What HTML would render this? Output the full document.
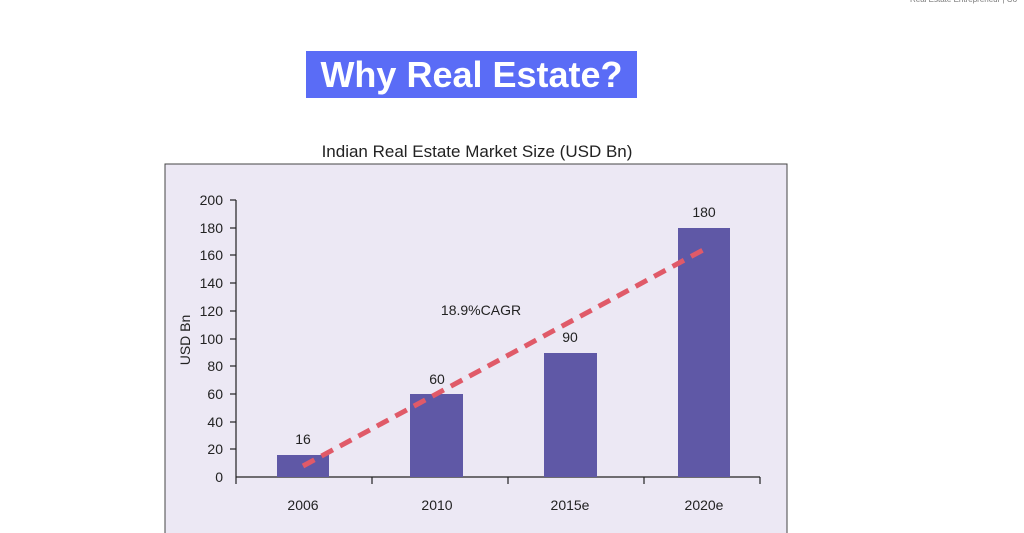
<!DOCTYPE html>
<html><head><style>
body{margin:0;width:1024px;height:533px;background:#fff;overflow:hidden;position:relative;font-family:"Liberation Sans",sans-serif}
</style></head><body>
<div style="position:absolute;left:306px;top:51px;width:331px;height:47px;background:#5a6cf6;color:#fff;font-weight:bold;font-size:36px;line-height:47px;text-align:center">Why Real Estate?</div>
<div style="position:absolute;left:910px;top:-5px;font-size:8px;color:#777">Real Estate Entrepreneur | Co</div>
<svg width="1024" height="533" style="position:absolute;left:0;top:0">
<text x="477" y="157" font-size="17" text-anchor="middle" fill="#222" font-family="Liberation Sans">Indian Real Estate Market Size (USD Bn)</text>
<rect x="165" y="164" width="622" height="380" fill="#ece8f4" stroke="#444" stroke-width="1"/>
<g stroke="#222" stroke-width="1.2">
<line x1="236" y1="200" x2="236" y2="477"/><line x1="236" y1="477" x2="760" y2="477"/>
<line x1="236" y1="477" x2="236" y2="484"/><line x1="372" y1="477" x2="372" y2="484"/><line x1="508" y1="477" x2="508" y2="484"/><line x1="644" y1="477" x2="644" y2="484"/><line x1="760" y1="477" x2="760" y2="484"/>
<line x1="230" y1="200" x2="236" y2="200"/><line x1="230" y1="228" x2="236" y2="228"/><line x1="230" y1="255" x2="236" y2="255"/><line x1="230" y1="283" x2="236" y2="283"/><line x1="230" y1="311" x2="236" y2="311"/><line x1="230" y1="339" x2="236" y2="339"/><line x1="230" y1="366" x2="236" y2="366"/><line x1="230" y1="394" x2="236" y2="394"/><line x1="230" y1="422" x2="236" y2="422"/><line x1="230" y1="449" x2="236" y2="449"/>
</g>
<g font-size="14" fill="#222" text-anchor="end" font-family="Liberation Sans">
<text x="223" y="205">200</text><text x="223" y="233">180</text><text x="223" y="260">160</text><text x="223" y="288">140</text><text x="223" y="316">120</text><text x="223" y="344">100</text><text x="223" y="371">80</text><text x="223" y="399">60</text><text x="223" y="427">40</text><text x="223" y="454">20</text><text x="223" y="482">0</text>
</g>
<text transform="translate(190,340) rotate(-90)" font-size="14" fill="#222" text-anchor="middle" font-family="Liberation Sans">USD Bn</text>
<g fill="#5f58a6">
<rect x="277" y="455" width="52" height="22"/><rect x="410" y="394" width="53" height="83"/><rect x="544" y="353" width="53" height="124"/><rect x="678" y="228" width="52" height="249"/>
</g>
<g font-size="14" fill="#222" text-anchor="middle" font-family="Liberation Sans">
<text x="303" y="444">16</text><text x="437" y="384">60</text><text x="570" y="342">90</text><text x="704" y="217">180</text>
<text x="303" y="510">2006</text><text x="437" y="510">2010</text><text x="570" y="510">2015e</text><text x="704" y="510">2020e</text>
<text x="481" y="315">18.9%CAGR</text>
</g>
<line x1="303" y1="466" x2="703" y2="250" stroke="#e05a68" stroke-width="5" stroke-dasharray="13,8"/>
</svg>
</body></html>
